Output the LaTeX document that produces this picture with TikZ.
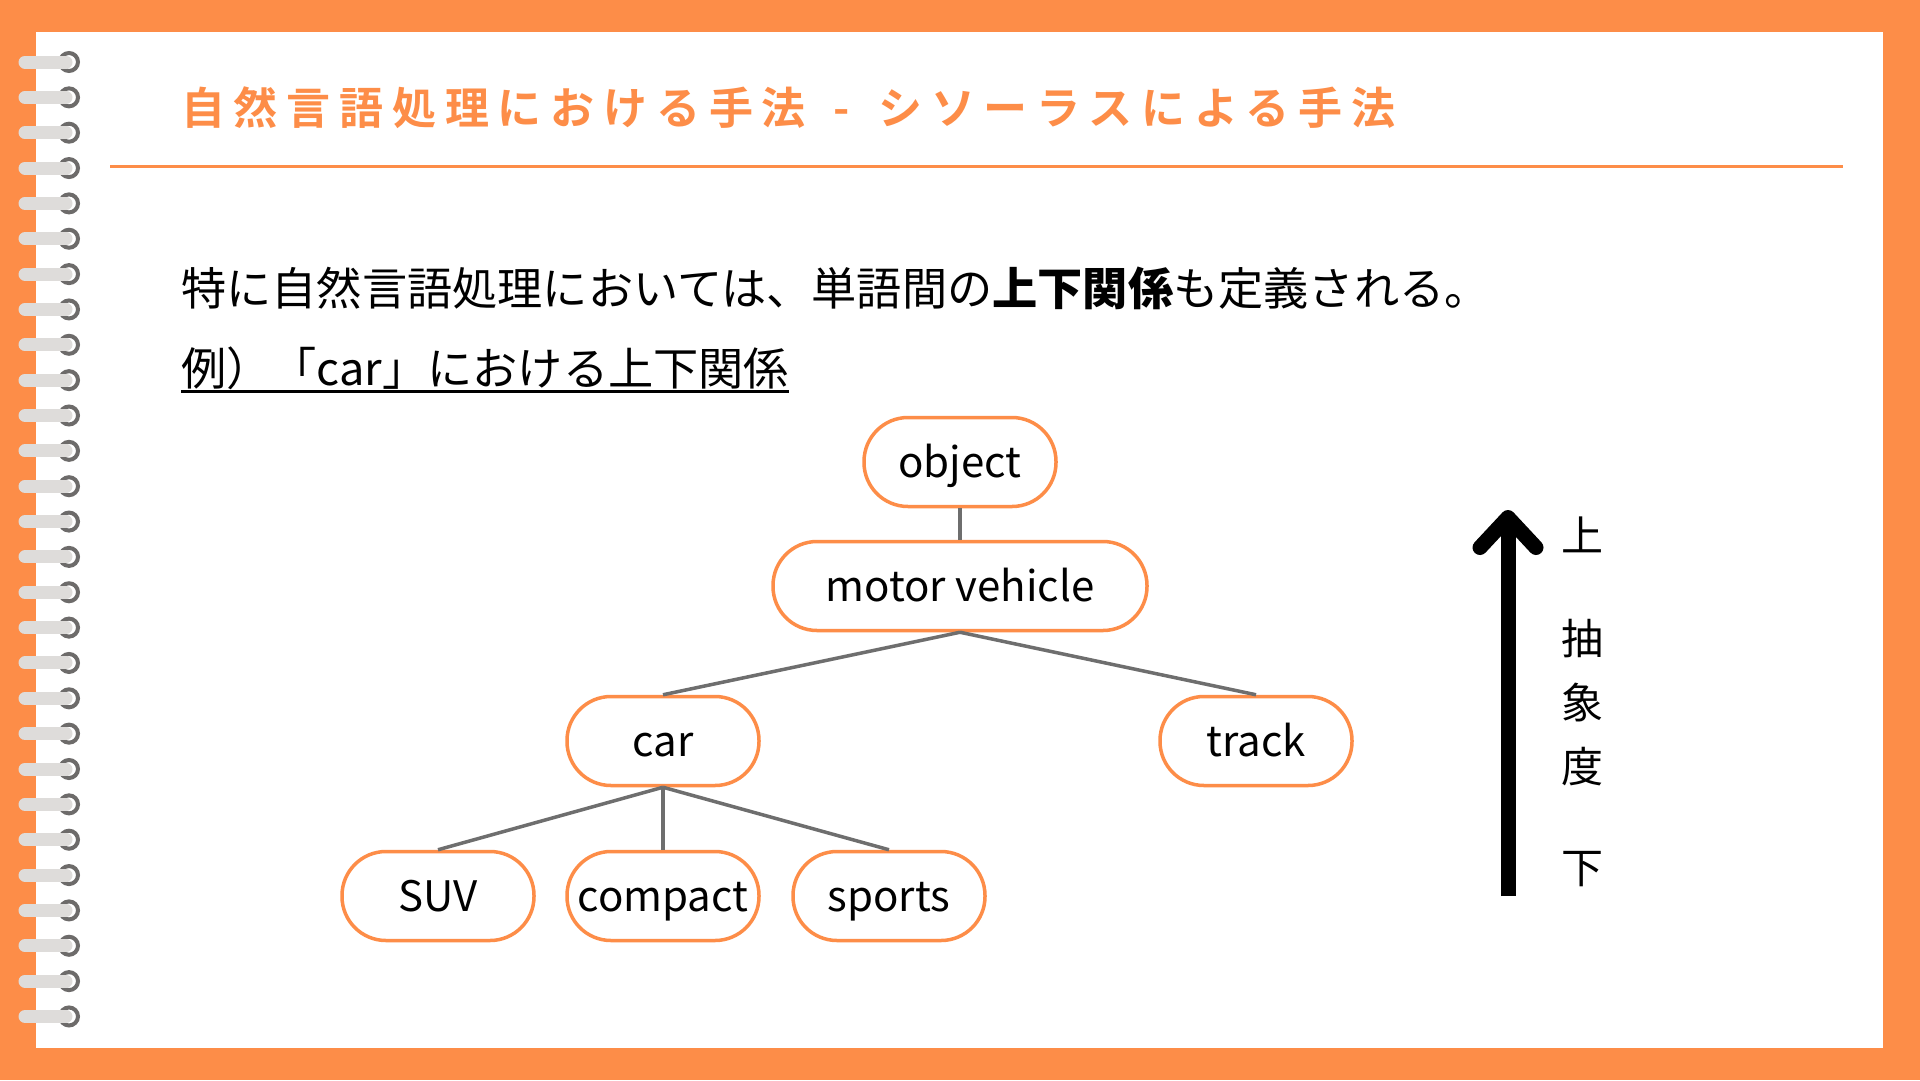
\documentclass[tikz,border=0pt]{standalone}
\usepackage{fontspec}
\setmainfont{Noto Sans CJK JP}
\newfontfamily\titlefont[LetterSpace=20]{Noto Sans CJK JP Bold}
\usetikzlibrary{arrows.meta}
\definecolor{frameorange}{HTML}{FD8D48}
\definecolor{ringgray}{HTML}{6D6B6A}
\definecolor{bargray}{HTML}{DEDCDA}
\definecolor{linkgray}{HTML}{6E6E6E}
\begin{document}
\begin{tikzpicture}[x=1pt, y=-1pt,
    word/.style={draw=frameorange, fill=white, line width=3.5pt, rounded corners=44pt,
        minimum width=192pt, minimum height=89pt, inner sep=0pt,
        text height=41pt, text depth=10pt,
        font=\fontsize{42}{50}\selectfont},
    link/.style={draw=linkgray, line width=3.5pt},
    bodytext/.style={inner sep=0pt, anchor=base west, font=\fontsize{45.2}{54}\selectfont},
    scaletext/.style={inner sep=0pt, font=\fontsize{42}{50}\selectfont}]
        % page
        \fill[frameorange] (0, 0) rectangle (1920, 1080);
        \fill[white] (36, 32) rectangle (1883, 1048);
        \foreach \i in {0,...,27} {
            \draw[ringgray, line width=4pt] (69, {62+35.35*\i}) circle (9);
            \draw[bargray, line width=13pt, line cap=round] (25, {62+35.35*\i}) -- (66, {62+35.35*\i});
        }
        % title
        \node[inner sep=0pt, anchor=base west, text=frameorange, font=\titlefont\fontsize{44}{52}\selectfont] (title) at (181, 124) {自然言語処理における手法\hspace{28pt}-\hspace{28pt}シソーラスによる手法};
        \draw[frameorange, line width=3pt] (110, 166) -- (1843, 166);
        % text
        \node[bodytext] (lead) at (181, 305) {特に自然言語処理においては、単語間の\textbf{上下関係}も定義される。};
        \node[bodytext] (example) at (181, 385) {例）「car」における上下関係};
        \draw[line width=3pt] ([yshift=-6pt]example.base west) -- ([yshift=-6pt]example.base east);
        % tree
        \node[word] (object) at (960, 462) {object};
        \node[word, minimum width=374pt] (motor) at (960, 586) {motor vehicle};
        \node[word] (car) at (663, 741) {car};
        \node[word] (track) at (1256, 741) {track};
        \node[word] (suv) at (438, 896) {SUV};
        \node[word] (compact) at (663, 896) {compact};
        \node[word] (sports) at (889, 896) {sports};
        \draw[link] (object.south) -- (motor.north);
        \draw[link] (motor.south) -- (car.north);
        \draw[link] (motor.south) -- (track.north);
        \draw[link] (car.south) -- (suv.north);
        \draw[link] (car.south) -- (compact.north);
        \draw[link] (car.south) -- (sports.north);
        % abstraction arrow
        \coordinate (low) at (1508, 896);
        \coordinate (high) at (1508, 510);
        \draw[line width=15pt, -{Straight Barb[length=30pt, width=56pt, round]}] (low) -- (high);
        \node[scaletext] (upper) at (1582, 535) {上};
        \node[scaletext] (chu) at (1582, 639) {抽};
        \node[scaletext] (sho) at (1582, 703) {象};
        \node[scaletext] (do) at (1582, 767) {度};
        \node[scaletext] (lower) at (1582, 869) {下};
\end{tikzpicture}
\end{document}
